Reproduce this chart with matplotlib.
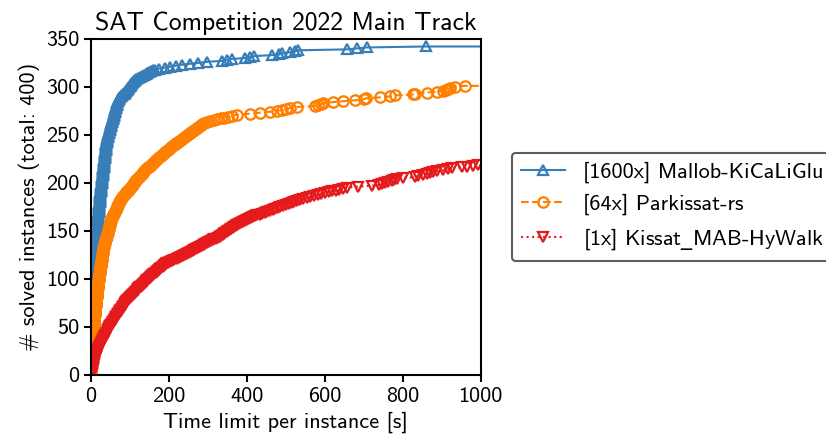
import matplotlib.pyplot as plt

plt.rcParams['font.family'] = ['cmss10', 'DejaVu Sans']
plt.rcParams['mathtext.fontset'] = 'dejavusans'

# sorted solve times [s] per solved instance
mallob_times = [
    0.4, 0.5, 0.5, 0.6, 0.6, 0.7, 0.7, 0.8, 0.8, 0.9, 0.9, 1.0, 1.0, 1.1, 1.1,
    1.2, 1.2, 1.3, 1.3, 1.4, 1.4, 1.5, 1.5, 1.6, 1.6, 1.7, 1.7, 1.8, 1.8, 1.9,
    2.0, 2.0, 2.1, 2.1, 2.1, 2.2, 2.2, 2.2, 2.3, 2.3, 2.3, 2.4, 2.4, 2.4, 2.5,
    2.5, 2.5, 2.6, 2.6, 2.6, 2.7, 2.7, 2.7, 2.8, 2.8, 2.8, 2.9, 2.9, 2.9, 3.0,
    3.0, 3.1, 3.1, 3.2, 3.2, 3.3, 3.3, 3.4, 3.4, 3.5, 3.5, 3.6, 3.6, 3.7, 3.7,
    3.8, 3.8, 3.9, 3.9, 4.0, 4.0, 4.1, 4.2, 4.3, 4.4, 4.5, 4.6, 4.7, 4.8, 4.9,
    5.0, 5.1, 5.3, 5.3, 5.4, 5.6, 5.6, 5.7, 5.9, 5.9, 6.0, 6.2, 6.2, 6.3, 6.5,
    6.5, 6.6, 6.8, 6.8, 6.9, 7.0, 7.2, 7.2, 7.3, 7.5, 7.5, 7.6, 7.8, 7.8, 8.0,
    8.2, 8.5, 8.6, 8.8, 9.1, 9.2, 9.4, 9.7, 9.8, 10.0, 10.4, 10.6, 10.9, 11.3,
    11.5, 11.8, 12.2, 12.4, 12.7, 13.0, 13.2, 13.5, 13.6, 13.8, 14.1, 14.2,
    14.4, 14.7, 14.8, 15.0,
    15.2, 15.5, 15.8, 16.0, 16.2, 16.5, 16.8, 17.0, 17.2, 17.4, 17.8, 17.9,
    18.1, 18.5, 18.6, 18.8, 19.2, 19.3, 19.5, 19.9, 20.0, 20.3, 20.6, 20.7,
    21.0, 21.3, 21.5, 21.7, 22.1, 22.2, 22.5, 22.8, 23.0, 23.2, 23.6, 23.7,
    24.0, 24.3, 24.5, 24.7, 25.1, 25.2, 25.5, 25.8, 26.0, 26.2, 26.6, 26.8,
    27.1, 27.4,
    27.7, 28.1, 28.3, 28.6, 29.0, 29.2, 29.5, 29.9, 30.1, 30.4, 30.8, 31.0,
    31.3, 31.7, 31.9, 32.2, 32.6, 32.8, 33.1, 33.5, 33.7, 34.0, 34.4, 34.6,
    34.9, 35.3, 35.5, 35.8, 36.2, 36.4, 36.7, 37.1, 37.3, 37.6, 38.0, 38.2,
    38.5, 38.9, 39.1, 39.4, 39.8, 40.0, 40.3, 40.7, 41.0,
    41.7, 42.5, 43.1, 43.8, 44.6, 45.2, 45.9, 46.7, 47.3, 48.0,
    48.7, 49.5, 50.0, 50.7, 51.5, 52.1, 52.8, 53.6, 54.1, 54.8, 55.6, 56.2,
    56.9, 57.7, 58.2, 58.9, 59.7, 60.3, 61.0, 61.8, 62.3, 63.0, 63.8, 64.4,
    65.1, 65.9, 66.4, 67.1, 67.9, 68.5, 69.2,
    71, 73, 75, 78, 80, 82, 84, 87, 88, 90, 92, 95, 96, 98, 100, 103, 104,
    106, 108, 110, 113,
    117, 122, 126, 131, 136, 141, 145, 150, 155, 160, 164,
    176, 190, 203, 218,
    233, 254, 274, 297,
    336, 349, 362,
    395, 408, 418, 464, 482, 490, 510, 523, 531, 656, 682, 708, 859,
]

parkissat_times = [
    0.5, 0.6, 0.7, 0.8, 0.9, 1.0, 1.1, 1.2, 1.3, 1.4, 1.5, 1.6, 1.7, 1.8, 1.9,
    2.0, 2.1, 2.2, 2.4, 2.6,
    2.8, 2.9, 3.0, 3.2, 3.3, 3.5, 3.6, 3.8, 3.9, 4.0, 4.2, 4.3, 4.5, 4.6, 4.7,
    4.9, 5.0, 5.2, 5.3, 5.5, 5.6, 5.7, 5.9, 6.0, 6.2, 6.3, 6.5, 6.6, 6.7, 6.9,
    7.0, 7.2, 7.3, 7.5, 7.6, 7.8, 8.0,
    8.3, 8.6, 8.9, 9.1, 9.4, 9.7, 10.0, 10.2, 10.5, 10.8, 11.1, 11.3, 11.6,
    11.9, 12.2, 12.4, 12.7, 13.0, 13.3, 13.5, 13.8, 14.1, 14.4, 14.6, 14.9,
    15.2, 15.5, 15.7, 16.0, 16.3, 16.6, 16.8, 17.1, 17.4, 17.7, 17.9, 18.2,
    18.5, 18.8, 19.0, 19.3, 19.6, 20.0,
    20.4, 20.8, 21.1, 21.5, 21.9, 22.2, 22.6, 23.0, 23.3, 23.7, 24.1, 24.4,
    24.8, 25.2, 25.5, 25.9, 26.3, 26.6, 27.0, 27.4, 27.7, 28.1, 28.5, 28.8,
    29.2, 29.6, 29.9, 30.3, 30.6, 31.0,
    31.6, 32.3, 32.9, 33.6, 34.2, 34.9, 35.5, 36.2, 36.8, 37.5, 38.1, 38.8,
    39.4, 40.1, 40.7, 41.4, 42.0, 42.7, 43.3, 44.0, 44.6, 45.3, 45.9, 46.6,
    47.2, 47.9, 48.5, 49.2, 49.8, 50.4, 51.0,
    52.1, 53.3, 54.4, 55.6, 56.7, 57.9, 59.0, 60.1, 61.3, 62.4, 63.6, 64.7,
    65.9, 67.0, 68.1, 69.3, 70.4, 71.6, 72.7, 73.9, 75.0,
    77, 79, 81, 83, 85, 87, 89, 91, 93, 95, 97, 99, 101, 103, 105, 107, 109,
    111, 113, 114, 115,
    117.5, 120, 122.5, 125, 127.5, 130, 132.5, 135, 137.5, 140, 142.5, 145,
    147.5, 150, 152.5, 155, 157.5, 160, 162.5, 165, 167,
    170, 173, 176, 179, 182, 185, 188, 191, 194, 197, 200, 203, 206, 209, 212,
    215, 218, 221, 224, 227, 230,
    233.5, 237, 240.5, 244, 247.5, 251, 254.5, 258, 261.5, 265, 268.5, 272,
    275.5, 279, 282.5, 286, 290,
    298, 306, 315, 324, 333, 342, 352, 363, 374,
    408, 433, 459, 477, 490, 500, 512, 528,
    574, 582, 590, 595, 620, 646, 677, 700, 705, 741, 767, 779, 826, 831, 861,
    887, 903, 910, 915, 920, 935, 959,
]

kissat_times = [
    2, 2.5, 3, 3.5, 4, 4.5, 5, 5.5, 6, 6.5, 7, 7.5, 8, 8.7, 9.3, 10,
    10.8, 11.6, 12.5, 13.4, 14.3, 15.2, 16, 17, 18, 19,
    20, 21.5, 22.7, 24, 25.2, 26.5, 27.7, 29, 30, 31.5, 32.7, 34, 35.2, 36.5,
    37.7, 39, 40.2, 41.5, 42.7, 44, 45.2, 46.5, 47.3, 48,
    50, 52, 54, 56, 57.5, 59, 61,
    62.5, 64, 65.5, 67, 69, 70.5, 72, 73.5, 75, 77, 78.5, 80, 81.5, 83, 85,
    86.5, 88, 89.5, 91, 93, 95,
    97.5, 100, 103, 105.5, 108, 110.5, 113,
    115, 117.5, 120, 122, 124.5, 127, 129, 131.5, 134, 136, 138.5, 141, 143,
    145,
    148, 151, 154, 157, 160, 163, 166, 169, 172, 175, 178, 181, 184, 187, 190,
    192, 195, 198,
    203, 209, 214, 220, 225, 230, 236, 241,
    246, 251, 256, 261, 265, 270, 275, 280,
    285, 289, 294, 298, 303, 308, 312, 317, 322, 326, 331,
    335, 338, 342, 345, 349, 353, 356, 360, 364, 367, 371, 375,
    380, 385, 390, 395, 400, 405, 410, 415, 420,
    427, 433, 440, 446, 453, 459, 466, 472, 479, 485,
    492, 500, 507, 515, 522, 530, 537, 545,
    554, 563, 572, 582, 591, 600, 610, 619, 628, 637, 647, 656,
    685, 720, 740, 748, 755, 762, 772, 778, 785, 800, 831, 840, 851, 863, 870,
    877, 887, 903, 915, 926, 951, 966, 979, 992,
]

series = [
    (mallob_times, '[1600x] Mallob-KiCaLiGlu', '#377eb8', '-', '^'),
    (parkissat_times, '[64x] Parkissat-rs', '#ff7f00', '--', 'o'),
    (kissat_times, '[1x] Kissat$\\_$MAB-HyWalk', '#e41a1c', ':', 'v'),
]
time_limit = 1000

fig, ax = plt.subplots(figsize=(8.26, 4.41), dpi=100)
fig.subplots_adjust(left=0.110, right=0.582, bottom=0.150, top=0.912)

for times, label, color, ls, marker in series:
    # line runs on to the time limit, markers only at solved instances
    xs = times + [time_limit]
    ys = list(range(1, len(times) + 1)) + [len(times)]
    ax.plot(xs, ys, color=color, linestyle=ls, lw=1.5, marker=marker,
            markersize=7.5, markerfacecolor='none', markeredgewidth=1.6,
            markevery=list(range(len(times))), label=label)

ax.set_xlim(0, 1000)
ax.set_ylim(0, 350)
ax.set_xticks(range(0, 1001, 200))
ax.set_yticks(range(0, 351, 50))
ax.tick_params(labelsize=16, width=1.5, length=5)
for sp in ax.spines.values():
    sp.set_linewidth(1.5)

ax.set_title('SAT Competition 2022 Main Track', fontsize=18.5)
ax.set_xlabel('Time limit per instance [s]', fontsize=16)
ax.set_ylabel('# solved instances (total: 400)', fontsize=16)

leg = ax.legend(loc='center left', bbox_to_anchor=(1.08, 0.5), borderaxespad=0,
                fontsize=16, frameon=True, fancybox=True)
leg.get_frame().set_edgecolor('#333333')
leg.get_frame().set_linewidth(1.5)

fig.savefig('out.png', dpi=100)
